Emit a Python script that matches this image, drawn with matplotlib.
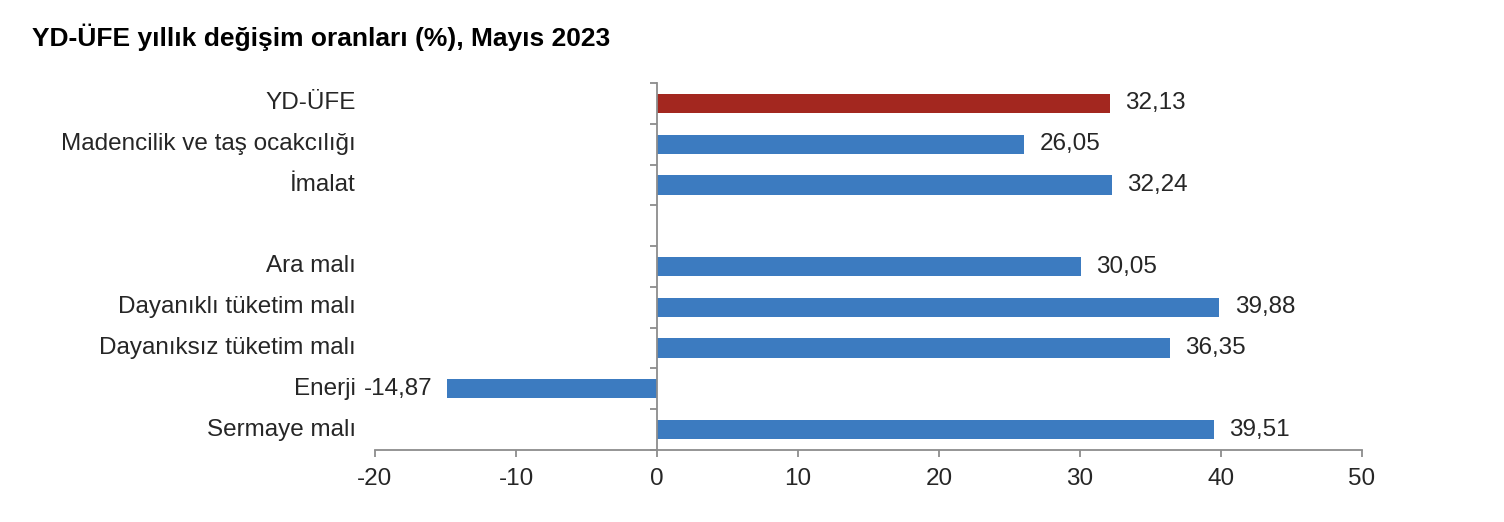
import matplotlib
matplotlib.use("Agg")
import matplotlib.pyplot as plt
import numpy as np

plt.rcParams["font.family"] = ["Liberation Sans", "DejaVu Sans"]

TITLE = "YD-ÜFE yıllık değişim oranları (%), Mayıs 2023"

# first group: overall index and sectors
sector_labels = ["YD-ÜFE", "Madencilik ve taş ocakcılığı", "İmalat"]
sector_values = [32.13, 26.05, 32.24]
sector_colors = ["#A3271F", "#3C7BC0", "#3C7BC0"]

# second group: main industrial groupings
group_labels = ["Ara malı", "Dayanıklı tüketim malı", "Dayanıksız tüketim malı",
                "Enerji", "Sermaye malı"]
group_values = [30.05, 39.88, 36.35, -14.87, 39.51]
group_colors = ["#3C7BC0"] * 5

x_ticks = [-20, -10, 0, 10, 20, 30, 40, 50]

TEXT = "#262626"
AXIS = "#8C8C8C"
FS = 17.5


def fmt(v):
    return f"{v:.2f}".replace(".", ",")


def main():
    labels = sector_labels + group_labels
    values = sector_values + group_values
    colors = sector_colors + group_colors
    # one empty slot between the two groups
    y = list(range(len(sector_labels))) + [
        len(sector_labels) + 1 + i for i in range(len(group_labels))
    ]
    n_slots = len(sector_labels) + 1 + len(group_labels)

    fig = plt.figure(figsize=(15.04, 5.22), dpi=100)
    ax = fig.add_axes([375 / 1504, 1 - 450 / 522, 987 / 1504, 367 / 522])

    ax.barh(y, values, height=0.47, color=colors, zorder=2)

    ax.set_xlim(x_ticks[0], x_ticks[-1])
    ax.set_ylim(n_slots - 0.5, -0.5)

    for yi, lab, v in zip(y, labels, values):
        ax.annotate(lab, xy=(0, yi), xycoords=("axes fraction", "data"),
                    xytext=(-14, 0), textcoords="offset points",
                    ha="right", va="center", fontsize=FS, color=TEXT)
        if v >= 0:
            ax.annotate(fmt(v), xy=(v, yi), xytext=(11, 0),
                        textcoords="offset points", ha="left", va="center",
                        fontsize=FS, color=TEXT)
        else:
            ax.annotate(fmt(v), xy=(v, yi), xytext=(-11, 0),
                        textcoords="offset points", ha="right", va="center",
                        fontsize=FS, color=TEXT)

    for side in ["top", "right"]:
        ax.spines[side].set_visible(False)
    ax.spines["left"].set_position(("data", 0))
    for side in ["left", "bottom"]:
        ax.spines[side].set_color(AXIS)
        ax.spines[side].set_linewidth(1.3)

    ax.set_yticks(np.arange(n_slots + 1) - 0.5)
    ax.set_yticklabels([])
    ax.set_xticks(x_ticks)
    ax.set_xticklabels([str(t) for t in x_ticks])
    ax.tick_params(axis="both", direction="out", length=5, width=1.3,
                   color=AXIS, labelsize=FS, labelcolor=TEXT)
    ax.tick_params(axis="x", pad=8)

    fig.text(32 / 1504, 1 - 37 / 522, TITLE, fontsize=19, fontweight="bold",
             color="black", ha="left", va="center")

    fig.savefig("out.png", dpi=100)
    plt.close(fig)


if __name__ == "__main__":
    main()
